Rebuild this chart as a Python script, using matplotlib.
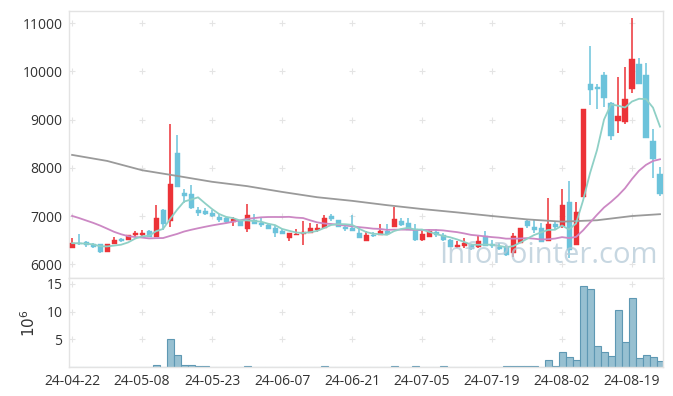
import numpy as np
import pandas as pd
import matplotlib
matplotlib.use("Agg")
import matplotlib.pyplot as plt

plt.rcParams['font.family'] = ['Open Sans', 'DejaVu Sans']

# ---------------- data ----------------
tick_labels = ["24-04-22", "24-05-08", "24-05-23", "24-06-07", "24-06-21",
               "24-07-05", "24-07-19", "24-08-02", "24-08-19"]
tick_days = [0, 10, 20, 30, 40, 50, 60, 70, 80]

opens = [6344, 6448, 6456, 6427, 6415, 6249, 6427, 6531, 6498, 6608,
         6608, 6691, 6573, 7127, 6905, 8309, 7486, 7465, 7120, 7106,
         7071, 6988, 6954, 6871, 6892, 6739, 6919, 6863, 6822, 6753,
         6685, 6552, 6602, 6623, 6650, 6712, 6760, 7002, 6913, 6774,
         6760, 6643, 6477, 6615, 6602, 6691, 6768, 6898, 6851, 6740,
         6507, 6556, 6670, 6605, 6504, 6365, 6380, 6394, 6348, 6587,
         6427, 6359, 6359, 6230, 6436, 6895, 6774, 6747, 6490, 6836,
         6790, 7296, 6404, 7390, 9741, 9685, 9928, 9341, 8980, 8946,
         9644, 10156, 9928, 8558, 7874]
highs = [6540, 6623, 6490, 6440, 6420, 6415, 6560, 6545, 6610, 6691,
         6710, 6700, 7230, 7140, 8905, 8683, 7556, 7645, 7183, 7162,
         7120, 7038, 6988, 6975, 6900, 7251, 7038, 6954, 6863, 6809,
         6726, 6650, 6726, 6892, 6851, 6836, 7017, 7044, 6920, 6830,
         7030, 6726, 6685, 6660, 6836, 6836, 7195, 6954, 6954, 6830,
         6690, 6740, 6740, 6640, 6520, 6490, 6540, 6420, 6608, 6697,
         6500, 6440, 6400, 6656, 6760, 6946, 6946, 6850, 7370, 6880,
         7562, 7720, 7300, 9222, 10530, 9740, 9997, 9360, 9880, 10095,
         11104, 10274, 10171, 8801, 8025]
lows = [6344, 6400, 6365, 6340, 6240, 6249, 6420, 6470, 6498, 6573,
        6560, 6566, 6573, 6712, 6780, 7604, 7278, 7147, 7002, 7023,
        6975, 6877, 6860, 6801, 6801, 6664, 6842, 6780, 6726, 6560,
        6620, 6490, 6602, 6394, 6650, 6664, 6760, 6898, 6768, 6697,
        6680, 6552, 6477, 6560, 6602, 6600, 6768, 6800, 6700, 6490,
        6490, 6556, 6560, 6490, 6350, 6340, 6330, 6300, 6330, 6380,
        6330, 6290, 6160, 6150, 6436, 6747, 6650, 6469, 6480, 6740,
        6760, 6130, 6400, 7390, 9300, 9216, 9270, 8570, 8718, 8911,
        9548, 9741, 8627, 7784, 7423]
closes = [6436, 6415, 6400, 6365, 6249, 6415, 6504, 6490, 6602, 6643,
          6650, 6566, 6961, 6842, 7672, 7604, 7423, 7168, 7071, 7050,
          7008, 6913, 6871, 6940, 6801, 7023, 6842, 6809, 6726, 6656,
          6629, 6650, 6629, 6670, 6747, 6753, 6954, 6940, 6768, 6732,
          6690, 6552, 6602, 6587, 6685, 6623, 6940, 6815, 6712, 6504,
          6629, 6691, 6608, 6504, 6365, 6407, 6436, 6324, 6483, 6386,
          6386, 6324, 6193, 6580, 6747, 6790, 6712, 6469, 6836, 6768,
          7230, 6297, 7091, 9210, 9617, 9631, 9457, 8662, 9077, 9430,
          10254, 9741, 8627, 8191, 7459]
# closes of the 19 sessions before the first visible day (needed by the averages)
prior_closes = [7300, 7400, 7350, 7379, 7700, 7819, 7500, 7392, 7000, 6893,
                6900, 6850, 6800, 6800, 6777, 6420, 6450, 6430, 6444]
# trading volume, millions of shares
volume = [0.03, 0.03, 0.03, 0.03, 0.03, 0.03, 0.03, 0.03, 0.03, 0.03,
          0.03, 0.03, 0.36, 0.03, 5.0, 2.2, 0.35, 0.35, 0.2, 0.2,
          0.03, 0.03, 0.03, 0.03, 0.03, 0.15, 0.03, 0.03, 0.03, 0.03,
          0.03, 0.03, 0.03, 0.03, 0.03, 0.03, 0.15, 0.03, 0.03, 0.03,
          0.03, 0.03, 0.03, 0.03, 0.03, 0.03, 0.15, 0.03, 0.03, 0.15,
          0.03, 0.03, 0.03, 0.15, 0.03, 0.03, 0.03, 0.03, 0.03, 0.03,
          0.03, 0.03, 0.15, 0.15, 0.15, 0.15, 0.15, 0.03, 1.3, 0.15,
          2.77, 1.8, 1.26, 14.6, 14.1, 3.8, 2.7, 2.0, 10.3, 4.5,
          12.5, 1.75, 2.3, 1.8, 1.1]
# 120-day moving average, read at every fifth session
ma120_days = [0, 5, 10, 15, 20, 25, 30, 35, 40, 45, 50, 55, 60, 65, 70, 75, 80, 84]
ma120_vals = [8268, 8143, 7950, 7832, 7710, 7620, 7500, 7390, 7315, 7225,
              7145, 7075, 7000, 6930, 6883, 6912, 7000, 7038]

# ---------------- derived ----------------
n = len(closes)
days = np.arange(n)
o = np.array(opens, float); h = np.array(highs, float)
l = np.array(lows, float); c = np.array(closes, float)
allc = pd.Series(prior_closes + closes, dtype=float)
ma5 = allc.rolling(5).mean().to_numpy()[len(prior_closes):]
ma20 = allc.rolling(20).mean().to_numpy()[len(prior_closes):]

RED = '#ec3237'
BLUE = '#6cc3db'

W, H = 673, 396
fig = plt.figure(figsize=(W / 100, H / 100), dpi=100)
L, R = 69.3, 663.3
ax1 = fig.add_axes([L / W, 1 - 277.7 / H, (R - L) / W, (277.7 - 10.7) / H])
ax2 = fig.add_axes([L / W, 1 - 367.3 / H, (R - L) / W, (367.3 - 278.3) / H])

xlim = (-0.4, 84.47)
for ax in (ax1, ax2):
    ax.set_xlim(*xlim)
    for s in ax.spines.values():
        s.set_color('#e3e3e3')
        s.set_linewidth(1.0)
    ax.tick_params(length=0, labelsize=10, colors='#333333', pad=5)
    ax.set_facecolor('white')

# grid crosses
ax1.set_ylim(5720, 11260)
yt1 = [6000, 7000, 8000, 9000, 10000, 11000]
gx, gy = np.meshgrid(tick_days, yt1)
ax1.scatter(gx.ravel(), gy.ravel(), marker='+', s=16, color='#e4e4e4',
            linewidths=0.8, zorder=0)
ax1.set_yticks(yt1)
ax1.set_xticks(tick_days)
ax1.set_xticklabels([])

# candles
up = c >= o
cols = np.where(up, RED, BLUE)
ax1.vlines(days, l, h, colors=cols, linewidth=1.1, zorder=2)
body_lo = np.minimum(o, c)
body_h = np.maximum(np.abs(c - o), 12)
ax1.bar(days, body_h, bottom=body_lo, width=0.72, color=cols,
        edgecolor=cols, linewidth=0.3, zorder=3)

# moving averages
ax1.plot(ma120_days, ma120_vals, color='#9a9a9a', lw=1.3, zorder=4)
ax1.plot(days, ma20, color='#cc88c4', lw=1.3, zorder=4)
ax1.plot(days, ma5, color='#8fd0c6', lw=1.3, zorder=4)

ax1.text(0.806, 0.082, 'InfoPointer.com', transform=ax1.transAxes,
         ha='center', va='center', fontsize=21, color='#b5cad8', alpha=0.75,
         zorder=6)

# volume
ax2.set_ylim(0, 16)
yt2 = [5, 10, 15]
gx2, gy2 = np.meshgrid(tick_days, yt2)
ax2.scatter(gx2.ravel(), gy2.ravel(), marker='+', s=16, color='#e4e4e4',
            linewidths=0.8, zorder=0)
ax2.bar(days, volume, width=1.0, color='#97c0d1', edgecolor='#5e98b3',
        linewidth=0.8, zorder=2)
ax2.set_yticks(yt2)
ax2.set_xticks(tick_days)
ax2.set_xticklabels(tick_labels)
ax2.set_ylabel(r'$10^6$', fontsize=11, color='#333333', labelpad=5)

fig.savefig('out.png', dpi=100, facecolor='white')
